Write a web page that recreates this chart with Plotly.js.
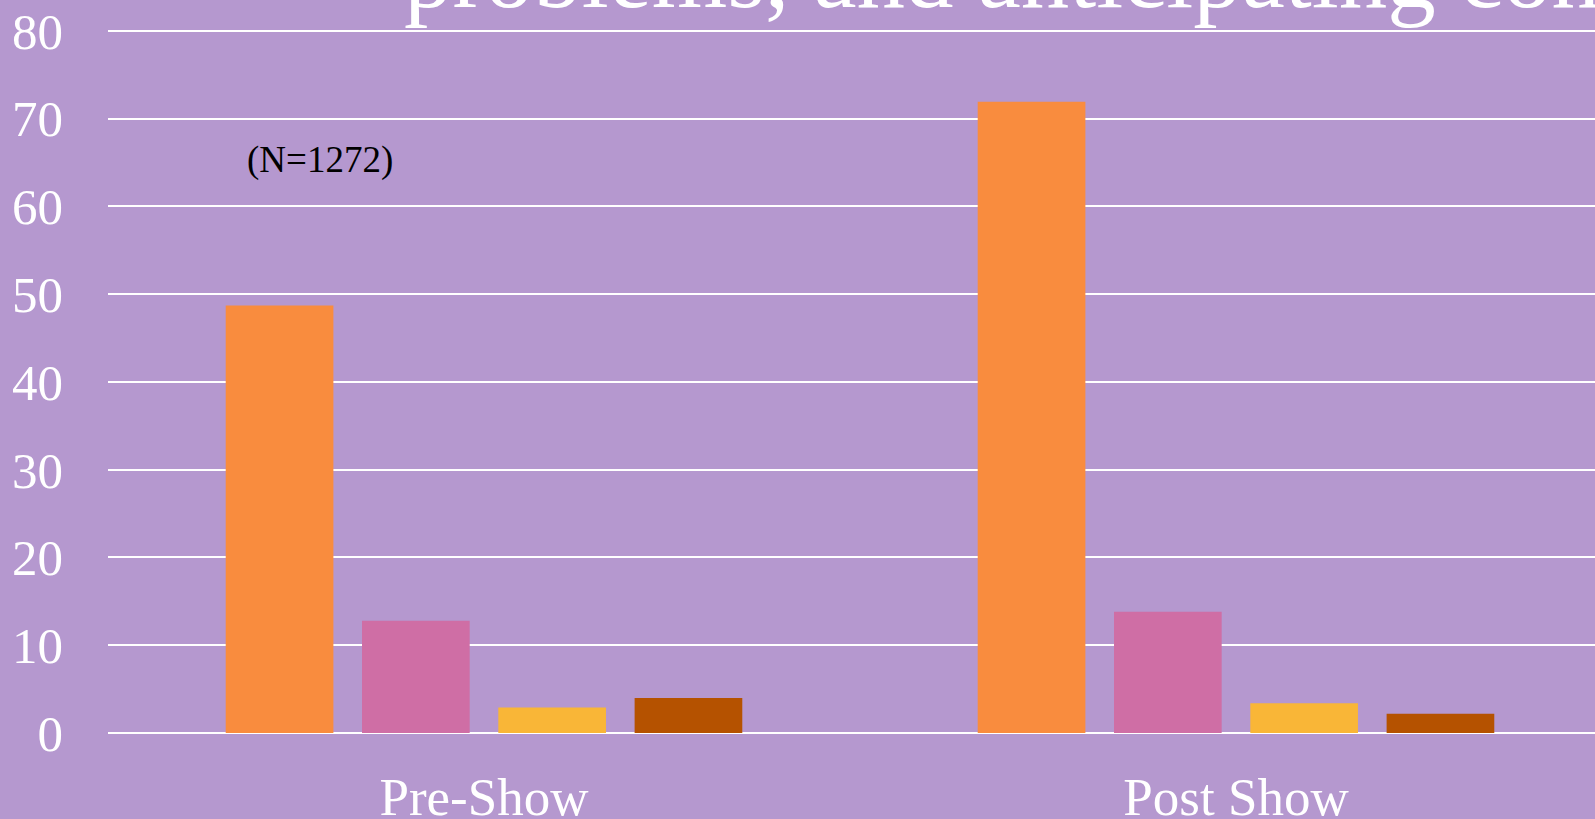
<!DOCTYPE html>
<html>
<head>
<meta charset="utf-8">
<script src="https://cdn.plot.ly/plotly-3.0.1.min.js"></script>
<style>
html,body{margin:0;padding:0;background:#B598CF;}
#chart{width:1595px;height:819px;}
</style>
</head>
<body>
<div id="chart"></div>
<script>
const categories = ["Pre-Show", "Post Show"];
const seriesNames = ["Series 1", "Series 2", "Series 3", "Series 4"];
const series1 = [48.7, 71.9];
const series2 = [12.8, 13.8];
const series3 = [2.9, 3.4];
const series4 = [4.0, 2.2];
const seriesColors = ["#F98C3E", "#CF6EA5", "#F9B637", "#B55200"];
const yTicks = [0, 10, 20, 30, 40, 50, 60, 70, 80];
const titleText = "problems, and anticipating consequences";
const noteText = "(N=1272)";

const allSeries = [series1, series2, series3, series4];
const traces = allSeries.map((vals, i) => ({
  type: "bar",
  name: seriesNames[i],
  x: categories,
  y: vals,
  marker: {color: seriesColors[i], line: {width: 0}},
  hoverinfo: "y"
}));

const serif = "Liberation Serif, Times New Roman, serif";

const layout = {
  width: 1595,
  height: 819,
  paper_bgcolor: "#B598CF",
  plot_bgcolor: "#B598CF",
  showlegend: false,
  barmode: "group",
  bargap: 0.275,
  bargroupgap: 0.21,
  margin: {l: 108, r: 0, t: 29, b: 86, pad: 0},
  font: {family: serif, color: "#FFFFFF"},
  xaxis: {
    type: "category",
    range: [-0.5, 1.4774],
    showgrid: false,
    zeroline: false,
    showline: false,
    ticks: "",
    ticklabelstandoff: 28,
    tickfont: {family: serif, size: 53, color: "#FFFFFF"},
    fixedrange: true
  },
  yaxis: {
    range: [0, 80.2],
    tickvals: yTicks,
    ticktext: yTicks.map(String),
    showgrid: true,
    gridcolor: "#FFFFFF",
    gridwidth: 2,
    zeroline: true,
    zerolinecolor: "#FFFFFF",
    zerolinewidth: 2,
    showline: false,
    ticks: "",
    ticklabelstandoff: 44,
    tickfont: {family: serif, size: 51, color: "#FFFFFF"},
    fixedrange: true
  },
  annotations: [
    {
      text: titleText,
      xref: "paper", yref: "paper",
      x: (402 - 108) / 1487, y: 1,
      xanchor: "left", yanchor: "bottom",
      yshift: -1,
      showarrow: false,
      font: {family: serif, size: 97, color: "#FFFFFF"}
    },
    {
      text: noteText,
      xref: "x", yref: "y",
      x: -0.218, y: 65.3,
      xanchor: "center", yanchor: "middle",
      showarrow: false,
      font: {family: serif, size: 37, color: "#000000"}
    }
  ]
};

Plotly.newPlot("chart", traces, layout, {displayModeBar: false, staticPlot: true});
</script>
</body>
</html>
